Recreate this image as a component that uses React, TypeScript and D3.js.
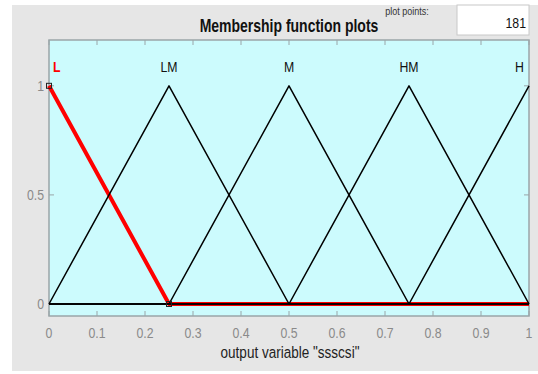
import React from "react";
import * as d3 from "d3";

const mfNames = ["L", "LM", "M", "HM", "H"];
const mfA = [-0.25, 0, 0.25, 0.5, 0.75];
const mfB = [0, 0.25, 0.5, 0.75, 1];
const mfC = [0.25, 0.5, 0.75, 1, 1.25];
const selectedIndex = 0;
const xBreaks = [0, 0.25, 0.5, 0.75, 1];
const xTicks = [0, 0.1, 0.2, 0.3, 0.4, 0.5, 0.6, 0.7, 0.8, 0.9, 1];
const xTickLabels = ["0", "0.1", "0.2", "0.3", "0.4", "0.5", "0.6", "0.7", "0.8", "0.9", "1"];
const yTicks = [0, 0.5, 1];
const yTickLabels = ["0", "0.5", "1"];
const titleText = "Membership function plots";
const xLabelText = 'output variable "ssscsi"';
const plotPointsLabel = "plot points:";
const plotPointsValue = "181";

const W = 538;
const H = 374;
const FONT = "'Liberation Sans', Arial, sans-serif";

function trimf(x: number, a: number, b: number, c: number) {
  const l = b === a ? (x >= b ? 1 : 0) : (x - a) / (b - a);
  const r = c === b ? (x <= b ? 1 : 0) : (c - x) / (c - b);
  return Math.max(0, Math.min(l, r));
}

function CText(props: { x: number; y: number; size: number; fill: string; anchor?: string; weight?: string; sx?: number; children: React.ReactNode }) {
  const sx = props.sx ?? 0.82;
  return (
    <text
      transform={`translate(${props.x},${props.y}) scale(${sx},1)`}
      fontFamily={FONT}
      fontSize={props.size}
      fontWeight={props.weight || "normal"}
      fill={props.fill}
      textAnchor={props.anchor || "middle"}
    >
      {props.children}
    </text>
  );
}

export default function App() {
  const left = 49, right = 529, top = 40, bottom = 316;
  const x = d3.scaleLinear().domain([0, 1]).range([left, right]);
  const y = d3.scaleLinear().domain([-0.055, 1.21]).range([bottom, top]);
  const line = d3.line<[number, number]>().x(d => x(d[0])).y(d => y(d[1]));

  const curves = mfNames.map((_, i) =>
    xBreaks.map(v => [v, trimf(v, mfA[i], mfB[i], mfC[i])] as [number, number])
  );

  const order = [selectedIndex, ...mfNames.map((_, i) => i).filter(i => i !== selectedIndex)];

  return (
    <svg width={W} height={H} style={{ position: "absolute", left: 0, top: 0, background: "#fff" }}>
      <rect x={12} y={5} width={526} height={366} fill="#e6e6e6" />
      {/* plot points box */}
      <rect x={457} y={5} width={72} height={30} fill="#fff" stroke="#c8c8c8" strokeWidth={1} />
      <CText x={407} y={15} size={11} fill="#333">{plotPointsLabel}</CText>
      <CText x={526} y={28} size={15} fill="#111" anchor="end">{plotPointsValue}</CText>
      <CText x={289} y={32} size={17.5} fill="#111" weight="bold" sx={0.8}>{titleText}</CText>

      <rect x={left} y={top} width={right - left} height={bottom - top} fill="#ccfbfd" stroke="#9aa5a8" strokeWidth={1.5} />

      {xTicks.map((t, i) => (
        <g key={"xt" + i}>
          <line x1={x(t)} x2={x(t)} y1={bottom} y2={bottom - 5} stroke="#9aa5a8" />
          <line x1={x(t)} x2={x(t)} y1={top} y2={top + 5} stroke="#9aa5a8" />
          <CText x={x(t)} y={338} size={15} fill="#8a8a8a">{xTickLabels[i]}</CText>
        </g>
      ))}
      {yTicks.map((t, i) => (
        <g key={"yt" + i}>
          <line x1={left} x2={left + 5} y1={y(t)} y2={y(t)} stroke="#9aa5a8" />
          <line x1={right} x2={right - 5} y1={y(t)} y2={y(t)} stroke="#9aa5a8" />
          <CText x={44} y={y(t) + 5} size={15} fill="#8a8a8a" anchor="end">{yTickLabels[i]}</CText>
        </g>
      ))}

      {order.map(i => (
        <path
          key={"c" + i}
          d={line(curves[i]) || ""}
          fill="none"
          stroke={i === selectedIndex ? "#ff0000" : "#000"}
          strokeWidth={i === selectedIndex ? 4 : 1.5}
          strokeLinejoin="round"
        />
      ))}

      {/* selection handles */}
      {[[mfB[selectedIndex], 1], [mfC[selectedIndex], 0]].map((p, k) => (
        <rect key={"h" + k} x={x(p[0]) - 2.5} y={y(p[1]) - 2.5} width={5} height={5} fill="none" stroke="#222" strokeWidth={1} />
      ))}

      {mfNames.map((n, i) => {
        const px = x(mfB[i]);
        const anchor = px <= left + 1 ? "start" : px >= right - 1 ? "end" : "middle";
        const tx = anchor === "start" ? px + 4 : anchor === "end" ? px - 5 : px;
        return (
          <CText key={"l" + n} x={tx} y={72} size={15}
            weight={i === selectedIndex ? "bold" : "normal"}
            fill={i === selectedIndex ? "#ff0000" : "#111"} anchor={anchor}>{n}</CText>
        );
      })}

      <CText x={290} y={358} size={16.5} fill="#222">{xLabelText}</CText>
    </svg>
  );
}
